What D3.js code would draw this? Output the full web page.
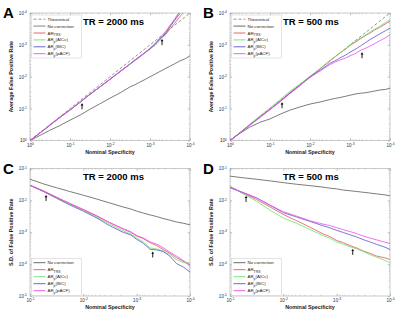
<!DOCTYPE html>
<html lang="en">
<head>
    <meta charset="UTF-8">
    <title>False positive rate vs nominal specificity</title>
    <script src="https://d3js.org/d3.v7.min.js"></script>
    <style>
        body { margin: 0; background: #fff; }
        text { font-family: "Liberation Sans", Arial, sans-serif; }
    </style>
</head>
<body>
<script>
    // nominal specificity grids
    const nomAB = [1, 0.56, 0.32, 0.18, 0.1, 0.056, 0.032, 0.018, 0.01, 0.0056, 0.0032,
        0.0024, 0.0018, 0.0013, 0.001, 0.00075, 0.00056, 0.00042, 0.00032, 0.00024, 0.00018, 0.00013, 0.0001];
    const nomCD = [0.1, 0.056, 0.032, 0.018, 0.01, 0.0056, 0.0032, 0.0018,
        0.0013, 0.001, 0.00075, 0.00056, 0.00042, 0.00032, 0.00024, 0.00018, 0.00013, 0.0001];

    const theoretical = nomAB.slice();

    // A: average FPR, TR = 2000 ms
    const aNone = [1, 0.69, 0.48, 0.34, 0.23, 0.16, 0.105, 0.071, 0.047, 0.032, 0.021, 0.018, 0.0148, 0.012, 0.010, 0.0083, 0.0068, 0.0056, 0.0047, 0.0039, 0.0032, 0.0027, 0.0022];
    const aTrs  = [1, 0.575, 0.331, 0.19, 0.11, 0.063, 0.036, 0.021, 0.012, 0.0069, 0.004, 0.003, 0.0023, 0.0017, 0.0013, 0.001, 0.00066, 0.0005, 0.00032, 0.00021, 0.00013, 0.000087, 0.000056];
    const aAic  = [1, 0.575, 0.33, 0.19, 0.11, 0.063, 0.036, 0.021, 0.012, 0.0069, 0.004, 0.003, 0.0023, 0.0018, 0.00126, 0.00105, 0.00071, 0.00044, 0.00026, 0.00016, 0.000089, 0.000063, 0.000045];
    const aBic  = [1, 0.58, 0.335, 0.19, 0.11, 0.063, 0.036, 0.021, 0.012, 0.0069, 0.0041, 0.0031, 0.0024, 0.00166, 0.00138, 0.00095, 0.00063, 0.00046, 0.00028, 0.00017, 0.000105, 0.000063, 0.00004];
    const aPacf = [1, 0.575, 0.33, 0.19, 0.11, 0.062, 0.036, 0.021, 0.012, 0.0068, 0.004, 0.003, 0.0023, 0.0017, 0.00126, 0.00091, 0.0006, 0.0004, 0.00025, 0.00015, 0.000089, 0.000056, 0.000035];

    // B: average FPR, TR = 500 ms
    const bNone = [1, 0.59, 0.38, 0.27, 0.21, 0.15, 0.112, 0.089, 0.072, 0.062, 0.052, 0.048, 0.045, 0.041, 0.038, 0.035, 0.033, 0.032, 0.03, 0.028, 0.026, 0.025, 0.023];
    const bTrs  = [1, 0.57, 0.32, 0.18, 0.105, 0.058, 0.032, 0.018, 0.0102, 0.0057, 0.0032, 0.0024, 0.0018, 0.00138, 0.00105, 0.00083, 0.00066, 0.00052, 0.00043, 0.00034, 0.00028, 0.00022, 0.00018];
    const bAic  = [1, 0.56, 0.31, 0.17, 0.095, 0.052, 0.029, 0.017, 0.0097, 0.0055, 0.0031, 0.0024, 0.0018, 0.00135, 0.001, 0.00079, 0.00062, 0.0005, 0.0004, 0.00032, 0.00026, 0.0002, 0.00016];
    const bBic  = [1, 0.57, 0.33, 0.19, 0.107, 0.06, 0.033, 0.019, 0.01, 0.0063, 0.0038, 0.0032, 0.0026, 0.0021, 0.0017, 0.0014, 0.0011, 0.00087, 0.00069, 0.00056, 0.00045, 0.00036, 0.0003];
    const bPacf = [1, 0.57, 0.33, 0.19, 0.107, 0.06, 0.034, 0.019, 0.0105, 0.0066, 0.0042, 0.0035, 0.003, 0.0026, 0.0022, 0.0019, 0.0015, 0.0013, 0.0011, 0.00091, 0.00074, 0.0006, 0.00048];

    // C: S.D. of FPR, TR = 2000 ms
    const cNone = [0.046, 0.033, 0.025, 0.019, 0.0145, 0.011, 0.0083, 0.0062, 0.0054, 0.0046, 0.004, 0.0035, 0.0031, 0.0027, 0.0024, 0.0021, 0.0019, 0.0017];
    const cTrs  = [0.0295, 0.02, 0.0126, 0.0079, 0.0051, 0.0032, 0.002, 0.00126, 0.001, 0.00076, 0.00063, 0.00047, 0.00038, 0.00029, 0.00022, 0.00016, 0.00012, 0.000098];
    const cAic  = [0.03, 0.019, 0.012, 0.0076, 0.0048, 0.003, 0.0018, 0.0011, 0.00089, 0.00066, 0.0005, 0.00032, 0.0003, 0.00026, 0.0002, 0.00014, 0.00011, 0.00011];
    const cBic  = [0.03, 0.019, 0.0117, 0.0072, 0.0046, 0.0028, 0.0016, 0.001, 0.00083, 0.0006, 0.00045, 0.00029, 0.00028, 0.00025, 0.00018, 0.000105, 0.000079, 0.000056];
    const cPacf = [0.0295, 0.0195, 0.0126, 0.0081, 0.0052, 0.0033, 0.002, 0.0013, 0.00105, 0.00079, 0.00066, 0.0005, 0.00042, 0.00033, 0.00024, 0.00018, 0.000126, 0.000087];

    // D: S.D. of FPR, TR = 500 ms
    const dNone = [0.0575, 0.051, 0.046, 0.041, 0.036, 0.032, 0.029, 0.026, 0.024, 0.023, 0.021, 0.02, 0.019, 0.018, 0.017, 0.016, 0.015, 0.014];
    const dTrs  = [0.027, 0.0166, 0.0107, 0.0063, 0.0036, 0.0023, 0.00145, 0.00089, 0.00071, 0.00055, 0.00047, 0.00038, 0.00032, 0.00026, 0.00022, 0.00018, 0.00016, 0.00014];
    const dAic  = [0.028, 0.0158, 0.0095, 0.005, 0.0028, 0.0019, 0.00123, 0.00079, 0.00063, 0.0005, 0.00042, 0.00035, 0.0003, 0.00025, 0.0002, 0.000166, 0.000135, 0.00011];
    const dBic  = [0.025, 0.0174, 0.012, 0.0071, 0.0041, 0.003, 0.0022, 0.0016, 0.00135, 0.00115, 0.00098, 0.00083, 0.00071, 0.00059, 0.0005, 0.00042, 0.00035, 0.00029];
    const dPacf = [0.025, 0.0174, 0.012, 0.0072, 0.0044, 0.0032, 0.0023, 0.0018, 0.0016, 0.0014, 0.0012, 0.00105, 0.00091, 0.00076, 0.00066, 0.00058, 0.0005, 0.00044];

    // tick values
    const ticksAB = [1, 0.1, 0.01, 0.001, 0.0001];
    const ticksCDx = [0.1, 0.01, 0.001, 0.0001];
    const ticksCDy = [0.1, 0.01, 0.001, 0.0001, 0.00001];

    // arrows: [nominal, value at arrow tip]
    const arrowsA = [[0.05, 0.068], [0.0005, 0.00066]];
    const arrowsB = [[0.05, 0.063], [0.0005, 0.0017]];
    const arrowsC = [[0.05, 0.0148], [0.0005, 0.00025]];
    const arrowsD = [[0.05, 0.0138], [0.0005, 0.0003]];

    const styles = {
        theory: { label: "Theoretical", color: "#8a8a8a", dash: "3,2", width: 0.9 },
        none: { label: "No correction", color: "#5a5a5a", width: 0.8 },
        trs: { label: "AR", sub: "TRS", color: "#e0585a", width: 0.8 },
        aic: { label: "AR", sub: "p", rest: "(AICc)", color: "#6ee06e", width: 0.8 },
        bic: { label: "AR", sub: "p", rest: "(BIC)", color: "#5a56cc", width: 0.8 },
        pacf: { label: "AR", sub: "p", rest: "(pACF)", color: "#ee4cee", width: 0.8 }
    };

    const panels = [
        { id: "A", ox: 0, oy: 0, title: "TR = 2000 ms", ylabel: "Average False Positive Rate",
          nominal: nomAB, xDomain: [1, 1e-4], yDomain: [1, 1e-4], xTicks: ticksAB, yTicks: ticksAB,
          series: [["theory", theoretical], ["none", aNone], ["trs", aTrs], ["aic", aAic], ["bic", aBic], ["pacf", aPacf]],
          arrows: arrowsA, legendTop: true },
        { id: "B", ox: 200, oy: 0, title: "TR = 500 ms", ylabel: "Average False Positive Rate",
          nominal: nomAB, xDomain: [1, 1e-4], yDomain: [1, 1e-4], xTicks: ticksAB, yTicks: ticksAB,
          series: [["theory", theoretical], ["none", bNone], ["trs", bTrs], ["aic", bAic], ["bic", bBic], ["pacf", bPacf]],
          arrows: arrowsB, legendTop: true },
        { id: "C", ox: 0, oy: 155.5, title: "TR = 2000 ms", ylabel: "S.D. of False Positive Rate",
          nominal: nomCD, xDomain: [0.1, 1e-4], yDomain: [1e-5, 0.1], xTicks: ticksCDx, yTicks: ticksCDy,
          series: [["none", cNone], ["trs", cTrs], ["aic", cAic], ["bic", cBic], ["pacf", cPacf]],
          arrows: arrowsC, legendTop: false },
        { id: "D", ox: 200, oy: 155.5, title: "TR = 500 ms", ylabel: "S.D. of False Positive Rate",
          nominal: nomCD, xDomain: [0.1, 1e-4], yDomain: [1e-5, 0.1], xTicks: ticksCDx, yTicks: ticksCDy,
          series: [["none", dNone], ["trs", dTrs], ["aic", dAic], ["bic", dBic], ["pacf", dPacf]],
          arrows: arrowsD, legendTop: false }
    ];

    const svg = d3.select("body").append("svg")
        .attr("width", 400).attr("height", 315);

    const L = 30, R = 190, T = 13, B = 140.5;

    // minor ticks 2..9 for each decade inside domain
    function minorTicks(domain) {
        const lo = Math.min(...domain), hi = Math.max(...domain);
        const out = [];
        for (let e = Math.floor(Math.log10(lo)); e < Math.ceil(Math.log10(hi)); e++) {
            for (let m = 2; m <= 9; m++) {
                const v = m * Math.pow(10, e);
                if (v > lo && v < hi) out.push(v);
            }
        }
        return out;
    }

    function superLabels(sel) {
        sel.selectAll(".tick text").each(function(d) {
            const t = d3.select(this);
            const e = Math.round(Math.log10(d));
            t.text(null).style("font-size", "4.6px").attr("fill", "#333");
            t.append("tspan").text("10");
            t.append("tspan").text(e).attr("dy", "-1.8").style("font-size", "3.4px");
        });
    }

    panels.forEach((p, pi) => {
        const g = svg.append("g").attr("transform", `translate(${p.ox},${p.oy})`);
        const x = d3.scaleLog().domain(p.xDomain).range([L, R]);
        const y = d3.scaleLog().domain(p.yDomain).range([B, T]);

        g.append("clipPath").attr("id", "clip" + pi)
            .append("rect").attr("x", L).attr("y", T).attr("width", R - L).attr("height", B - T);

        g.append("rect").attr("x", L).attr("y", T).attr("width", R - L).attr("height", B - T)
            .attr("fill", "#fff");

        // axes with inward ticks on all sides
        const axes = [
            [d3.axisBottom(x), `translate(0,${B})`, true],
            [d3.axisTop(x), `translate(0,${T})`, false],
            [d3.axisLeft(y), `translate(${L},0)`, true],
            [d3.axisRight(y), `translate(${R},0)`, false]
        ];
        axes.forEach(([ax, tr, labels], k) => {
            const major = k < 2 ? p.xTicks : p.yTicks;
            const dom = k < 2 ? p.xDomain : p.yDomain;
            const ga = g.append("g").attr("transform", tr)
                .call(ax.tickValues(major).tickSize(-2.2).tickPadding(labels ? 3 : 0));
            ga.select(".domain").remove();
            ga.selectAll(".tick line").attr("stroke", "#777").attr("stroke-width", 0.5);
            if (labels) superLabels(ga); else ga.selectAll(".tick text").remove();
            const gm = g.append("g").attr("transform", tr)
                .call(ax.tickValues(minorTicks(dom)).tickSize(-1.2).tickFormat(""));
            gm.select(".domain").remove();
            gm.selectAll(".tick line").attr("stroke", "#888").attr("stroke-width", 0.4);
        });

        g.append("rect").attr("x", L).attr("y", T).attr("width", R - L).attr("height", B - T)
            .attr("fill", "none").attr("stroke", "#a8a8a8").attr("stroke-width", 0.6);

        // series
        const line = d3.line().x(d => x(d[0])).y(d => y(d[1]));
        const plot = g.append("g").attr("clip-path", `url(#clip${pi})`);
        p.series.forEach(([key, vals]) => {
            const s = styles[key];
            plot.append("path")
                .datum(p.nominal.map((n, i) => [n, vals[i]]))
                .attr("d", line)
                .attr("fill", "none")
                .attr("stroke", s.color)
                .attr("stroke-width", s.width)
                .attr("stroke-dasharray", s.dash || null);
        });

        // arrows
        p.arrows.forEach(([ax, av]) => {
            const ax0 = x(ax), ay0 = y(av);
            g.append("line").attr("x1", ax0).attr("x2", ax0).attr("y1", ay0 + 1.5).attr("y2", ay0 + 6)
                .attr("stroke", "#000").attr("stroke-width", 0.9);
            g.append("path").attr("d", `M${ax0 - 1.4},${ay0 + 2.2}L${ax0},${ay0}L${ax0 + 1.4},${ay0 + 2.2}Z`)
                .attr("fill", "#000");
        });

        // legend
        const legendKeys = p.series.map(s => s[0]);
        const ly0 = p.legendTop ? 15 : 103;
        const lh = p.legendTop ? 43 : 37;
        const step = p.legendTop ? 6.9 : 7;
        g.append("rect").attr("x", 31.5).attr("y", ly0).attr("width", 50).attr("height", lh)
            .attr("fill", "#fff").attr("stroke", "#c8c8c8").attr("stroke-width", 0.5);
        legendKeys.forEach((key, i) => {
            const s = styles[key];
            const yy = ly0 + 4.2 + i * step;
            // panel A draws the no-correction key as a thick light line
            const fat = key === "none" && pi === 0;
            g.append("line").attr("x1", 33.5).attr("x2", 45.5).attr("y1", yy).attr("y2", yy)
                .attr("stroke", fat ? "#b4b4b4" : s.color).attr("stroke-width", fat ? 1.6 : 0.9)
                .attr("stroke-dasharray", s.dash || null);
            const t = g.append("text").attr("x", 47.5).attr("y", yy + 1.5)
                .style("font-size", "4.4px").attr("fill", "#222");
            t.append("tspan").text(s.label);
            if (s.sub) {
                t.append("tspan").text(s.sub).attr("dy", "1.4").style("font-size", "3.4px");
                if (s.rest) t.append("tspan").text(s.rest).attr("dy", "-1.4");
            }
        });

        // labels
        g.append("text").attr("x", 3).attr("y", 18).text(p.id)
            .style("font-size", "15px").style("font-weight", "bold").attr("fill", "#000");
        g.append("text").attr("x", 83).attr("y", 24.5).text(p.title)
            .style("font-size", "9.5px").style("font-weight", "bold").attr("fill", "#000");
        g.append("text").attr("x", (L + R) / 2).attr("y", 153.5).attr("text-anchor", "middle")
            .text("Nominal Specificity").style("font-size", "5.4px").style("font-weight", "bold").attr("fill", "#222");
        g.append("text").attr("transform", `translate(13,${(T + B) / 2}) rotate(-90)`)
            .attr("text-anchor", "middle").text(p.ylabel)
            .style("font-size", "5.4px").style("font-weight", "bold").attr("fill", "#222");
    });
</script>
</body>
</html>
